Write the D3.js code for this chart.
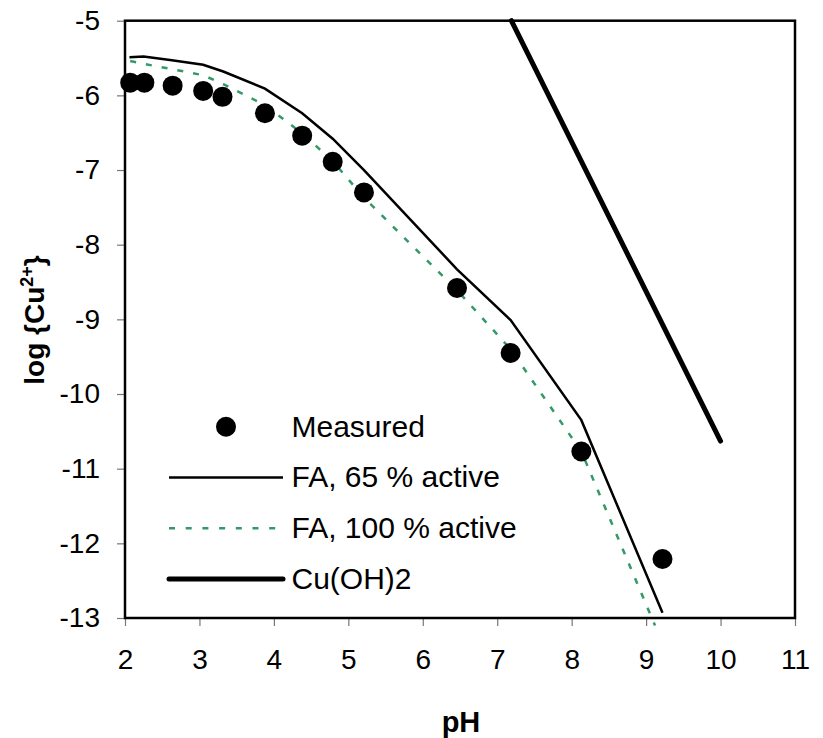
<!DOCTYPE html>
<html>
<head>
<meta charset="utf-8">
<script src="https://cdn.jsdelivr.net/npm/d3@7"></script>
<style>
  body { margin: 0; background: #fff; }
  svg text { font-family: "Liberation Sans", Arial, sans-serif; fill: #000; }
</style>
</head>
<body>
<div id="chart"></div>
<script>
// measured points
var measuredPH = [2.07, 2.26, 2.64, 3.05, 3.31, 3.88, 4.38, 4.79, 5.21, 6.46, 7.18, 8.13, 9.22];
var measuredLogCu = [-5.83, -5.83, -5.87, -5.94, -6.02, -6.24, -6.54, -6.89, -7.30, -8.58, -9.45, -10.77, -12.21];

// FA, 65 % active (model)
var fa65PH = [2.06, 2.25, 2.63, 3.05, 3.32, 3.88, 4.38, 4.79, 5.21, 6.46, 7.18, 8.13, 9.22];
var fa65LogCu = [-5.49, -5.48, -5.53, -5.59, -5.68, -5.91, -6.24, -6.58, -7.00, -8.33, -9.01, -10.35, -12.93];

// FA, 100 % active (model)
var fa100PH = [2.07, 2.26, 2.64, 3.05, 3.32, 3.88, 4.38, 4.79, 5.21, 6.46, 7.18, 8.13, 9.12];
var fa100LogCu = [-5.54, -5.58, -5.65, -5.73, -5.85, -6.13, -6.51, -6.88, -7.37, -8.61, -9.40, -10.77, -13.10];

// Cu(OH)2 solubility
var cuohPH = [7.19, 10.0];
var cuohLogCu = [-5.0, -10.63];

var xTicks = [2, 3, 4, 5, 6, 7, 8, 9, 10, 11];
var yTicks = [-5, -6, -7, -8, -9, -10, -11, -12, -13];

var legendLabels = ["Measured", "FA, 65 % active", "FA, 100 % active", "Cu(OH)2"];

const width = 823, height = 738;
const plot = {left: 125, right: 795, top: 20.7, bottom: 618};
const green = "#339966";

var svg = d3.select("#chart").append("svg")
    .attr("width", width)
    .attr("height", height);

var x = d3.scaleLinear().domain([2, 11]).range([plot.left, plot.right]);
var y = d3.scaleLinear().domain([-13, -5]).range([plot.bottom, plot.top]);

// axes with outside grey ticks
var xAxis = svg.append("g")
    .attr("transform", "translate(0," + plot.bottom + ")")
    .call(d3.axisBottom(x).tickValues(xTicks).tickSize(8).tickPadding(23).tickFormat(d3.format("d")));
var yAxis = svg.append("g")
    .attr("transform", "translate(" + plot.left + ",0)")
    .call(d3.axisLeft(y).tickValues(yTicks).tickSize(8).tickPadding(17).tickFormat(d => "-" + Math.abs(d)));
[xAxis, yAxis].forEach(function (a) {
    a.select(".domain").remove();
    a.selectAll(".tick line").attr("stroke", "#777").attr("stroke-width", 1.2);
    a.selectAll(".tick text").style("font-size", "28px").attr("fill", "#000");
});

// plot frame
svg.append("rect")
    .attr("x", plot.left).attr("y", plot.top)
    .attr("width", plot.right - plot.left).attr("height", plot.bottom - plot.top)
    .attr("fill", "none").attr("stroke", "#000").attr("stroke-width", 2.5);

var line = d3.line().x(d => x(d[0])).y(d => y(d[1]));

svg.append("path")
    .datum(d3.zip(cuohPH, cuohLogCu))
    .attr("d", line)
    .attr("fill", "none").attr("stroke", "#000").attr("stroke-width", 5).attr("stroke-linecap", "round");

svg.append("path")
    .datum(d3.zip(fa65PH, fa65LogCu))
    .attr("d", line)
    .attr("fill", "none").attr("stroke", "#000").attr("stroke-width", 2.5);

svg.append("path")
    .datum(d3.zip(fa100PH, fa100LogCu))
    .attr("d", line)
    .attr("fill", "none").attr("stroke", green).attr("stroke-width", 2.5)
    .attr("stroke-dasharray", "6,10");

svg.append("g").selectAll("circle")
    .data(d3.zip(measuredPH, measuredLogCu))
    .enter().append("circle")
    .attr("cx", d => x(d[0]))
    .attr("cy", d => y(d[1]))
    .attr("r", 10)
    .attr("fill", "#000");

// legend
var legend = svg.append("g").attr("transform", "translate(169,426.7)");
var rowH = 50.8;
legend.append("circle").attr("cx", 57).attr("cy", 0).attr("r", 10).attr("fill", "#000");
legend.append("line").attr("x1", 0).attr("x2", 114).attr("y1", rowH).attr("y2", rowH)
    .attr("stroke", "#000").attr("stroke-width", 2.5);
legend.append("line").attr("x1", 0).attr("x2", 110).attr("y1", rowH * 2).attr("y2", rowH * 2)
    .attr("stroke", green).attr("stroke-width", 2.5).attr("stroke-dasharray", "6,10.7");
legend.append("line").attr("x1", 0).attr("x2", 114).attr("y1", rowH * 3).attr("y2", rowH * 3)
    .attr("stroke", "#000").attr("stroke-width", 5).attr("stroke-linecap", "round");
legend.selectAll("text.lbl")
    .data(legendLabels)
    .enter().append("text")
    .attr("class", "lbl")
    .attr("x", 122.5)
    .attr("y", (d, i) => i * rowH + 10)
    .style("font-size", "30px")
    .text(d => d);

// axis titles
svg.append("text")
    .attr("x", 461).attr("y", 731.5)
    .attr("text-anchor", "middle")
    .style("font-size", "29px").style("font-weight", "bold")
    .text("pH");

var yt = svg.append("text")
    .attr("transform", "translate(43.5,320) rotate(-90)")
    .attr("text-anchor", "middle")
    .style("font-size", "28px").style("font-weight", "bold");
yt.append("tspan").text("log {Cu");
yt.append("tspan").attr("dy", -11).style("font-size", "18px").text("2+");
yt.append("tspan").attr("dy", 11).text("}");
</script>
</body>
</html>
